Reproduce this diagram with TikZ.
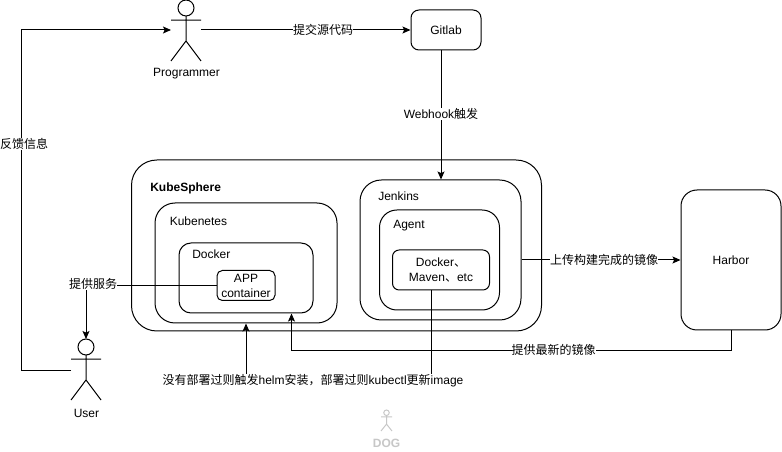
\documentclass[tikz,border=0pt]{standalone}
\usepackage{fontspec}
\setmainfont{Liberation Sans}
\newfontfamily\cjk{Noto Sans CJK SC}
\usetikzlibrary{arrows.meta,calc}
\tikzset{
  base/.style={font=\fontsize{9}{11.25}\selectfont},
  box/.style={base,draw=black,line width=.75pt,rectangle,inner sep=0pt,align=center,anchor=center},
  txt/.style={base,inner sep=0pt,anchor=west},
  lbl/.style={base,fill=white,inner xsep=0pt,inner ysep=.5pt,anchor=center},
  conn/.style={draw=black,line width=.75pt},
  arr/.style={conn,-{Stealth[length=6pt,width=5.2pt,inset=1.2pt]}},
  figline/.style={line width=.75pt},
  figbox/.style={inner sep=0pt,rectangle,anchor=north,outer sep=0pt}
}
% name, cx, top, width, height, colour
\newcommand{\stickfig}[6]{%
  \node[figbox,minimum width=#4*.75pt,minimum height=#5*.75pt] (#1) at (#2,#3) {};
  \pgfmathsetmacro{\rr}{#5*0.1311}
  \draw[figline,draw=#6] (#2,#3+\rr) circle[radius=\rr*.75pt];
  \draw[figline,draw=#6]
    (#2,#3+2*\rr) -- (#2,#3+#5*.6721)
    (#2-#4/2,#3+#5*.328) -- (#2+#4/2,#3+#5*.328)
    (#2-#4/2,#3+#5) -- (#2,#3+#5*.6721) -- (#2+#4/2,#3+#5);
}
\begin{document}
\begin{tikzpicture}[x=.75pt,y=-.75pt]
\useasboundingbox (0,0) rectangle (782,452);
\fill[white] (0,0) rectangle (782,452);

% actors
\stickfig{programmer}{186}{0}{30}{61}{black}
\stickfig{user}{86}{339}{30}{61}{black}
\stickfig{dog}{386.5}{410}{11}{21}{black!22}
\node[txt,anchor=center] (programmerlbl) at (186.5,73.5) {Programmer};
\node[txt,anchor=center] (userlbl) at (86.5,413.5) {User};
\node[txt,anchor=center,font=\fontsize{9}{11.25}\selectfont\bfseries,text=black!22] (doglbl) at (386.5,443.5) {DOG};

% boxes
\node[box,rounded corners=6pt,minimum width=70*.75pt,minimum height=40*.75pt] (gitlab) at (446,30) {Gitlab};
\node[box,rounded corners=19pt,minimum width=410*.75pt,minimum height=171*.75pt] (kube) at (336.5,245.5) {};
\node[box,rounded corners=15pt,minimum width=182*.75pt,minimum height=120*.75pt] (k8s) at (246,263) {};
\node[box,rounded corners=9pt,minimum width=134*.75pt,minimum height=70*.75pt] (docker) at (246,278) {};
\node[box,rounded corners=4pt,minimum width=58*.75pt,minimum height=30*.75pt] (app) at (246,285.5) {APP\\container};
\node[box,rounded corners=16pt,minimum width=161*.75pt,minimum height=140*.75pt] (jenkins) at (440.5,250) {};
\node[box,rounded corners=13pt,minimum width=120*.75pt,minimum height=100*.75pt] (agent) at (439.5,260) {};
\node[box,rounded corners=5pt,minimum width=97*.75pt,minimum height=40*.75pt] (tools) at (441,270) {Docker{\cjk 、}\\Maven{\cjk 、}etc};
\node[box,rounded corners=12pt,minimum width=100*.75pt,minimum height=140*.75pt] (harbor) at (731,260) {Harbor};

% box titles
\node[txt,font=\fontsize{9}{11.25}\selectfont\bfseries] (kubet) at (150,188) {KubeSphere};
\node[txt] (k8st) at (169.5,221) {Kubenetes};
\node[txt] (dockert) at (192,254) {Docker};
\node[txt] (jenkinst) at (378,196) {Jenkins};
\node[txt] (agentt) at (393,226) {Agent};

% connectors
\draw[arr] (programmer.east |- 0,30) -- (gitlab.west);
\draw[arr] ([xshift=-3.75pt]gitlab.south) -- ([xshift=-3.75pt]gitlab.south |- jenkins.north);
\draw[arr] (jenkins.east |- harbor.west) -- (harbor.west);
\draw[arr] (harbor.south) |- (350,350.5) -| (docker.south -| 291.5,0);
\draw[arr] ([xshift=-7.5pt]tools.south) |- (246,381) -- (k8s.south);
\draw[arr] (app.west) -| (user.north);
\draw[arr] (user.west |- 0,370) -| (21,30) -- (programmer.west |- 0,30);

% connector labels
\node[lbl] (l1) at (323,30) {\cjk 提交源代码};
\node[lbl] (l2) at (441,114) {Webhook{\cjk 触发}};
\node[lbl] (l3) at (604,260) {\cjk 上传构建完成的镜像};
\node[lbl] (l4) at (553.5,350) {\cjk 提供最新的镜像};
\node[lbl] (l5) at (313,381) {{\cjk 没有部署过则触发}helm{\cjk 安装，部署过则}kubectl{\cjk 更新}image};
\node[lbl] (l6) at (93,284) {\cjk 提供服务};
\node[lbl] (l7) at (24,144) {\cjk 反馈信息};
\end{tikzpicture}
\end{document}
